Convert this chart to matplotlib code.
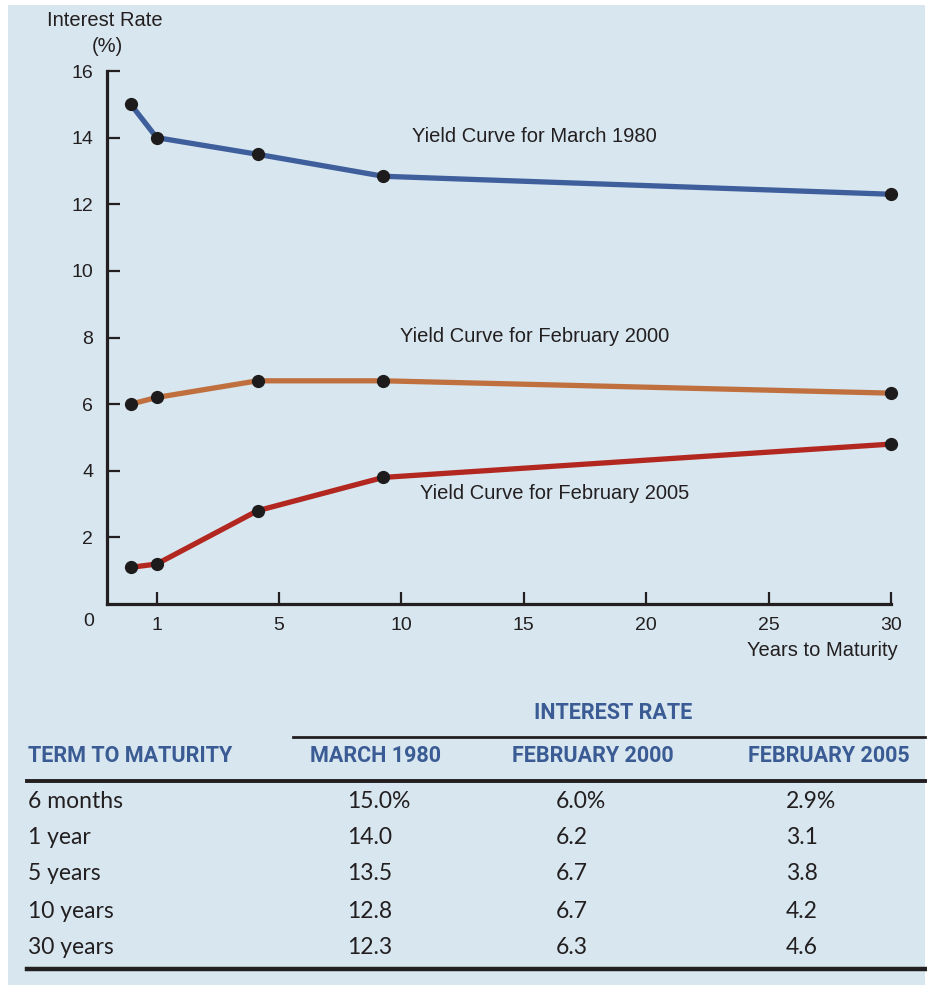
import matplotlib
matplotlib.use("Agg")
import matplotlib.pyplot as plt
from matplotlib.lines import Line2D
from matplotlib.patches import Rectangle

x_pos = [-1.06, 0.0, 4.12, 9.26, 30.0]
tick_pos = [0, 5, 10, 15, 20, 25, 30]
tick_labels = ["1", "5", "10", "15", "20", "25", "30"]

curve_1980 = [15.0, 14.0, 13.5, 12.84, 12.3]
curve_2000 = [6.0, 6.2, 6.7, 6.7, 6.33]
curve_2005 = [1.1, 1.2, 2.8, 3.8, 4.8]

terms = ["6 months", "1 year", "5 years", "10 years", "30 years"]
rates_1980 = [15.0, 14.0, 13.5, 12.8, 12.3]
rates_2000 = [6.0, 6.2, 6.7, 6.7, 6.3]
rates_2005 = [2.9, 3.1, 3.8, 4.2, 4.6]
col_heads = ["TERM TO MATURITY", "MARCH 1980", "FEBRUARY 2000", "FEBRUARY 2005"]

BG = "#d7e6ef"
INK = "#231f20"
HEAD = "#3a5b93"
W, H = 927, 991

plt.rcParams["font.family"] = ["Liberation Sans", "DejaVu Sans"]

fig = plt.figure(figsize=(W / 100, H / 100), dpi=100)
fig.patches.append(Rectangle((8 / W, 1 - 985 / H), (925 - 8) / W, (985 - 5) / H,
                             transform=fig.transFigure, facecolor=BG, edgecolor="none", zorder=-5))

ax = fig.add_axes([107 / W, 1 - 604 / H, (891 - 107) / W, (604 - 71) / H])
ax.set_facecolor("none")
ax.set_zorder(2)

ax.plot(x_pos, curve_1980, color="#3e5f9b", lw=3.8, zorder=2)
ax.plot(x_pos, curve_2000, color="#c0703f", lw=3.8, zorder=2)
ax.plot(x_pos, curve_2005, color="#b2271f", lw=3.8, zorder=2)
for ys in (curve_1980, curve_2000, curve_2005):
    ax.plot(x_pos, ys, "o", color="#1e1b1c", ms=8.5, zorder=3, clip_on=False)

ax.set_xlim(-2.03, 30)
ax.set_ylim(0, 16)
ax.set_xticks(tick_pos)
ax.set_xticklabels(tick_labels)
ax.set_yticks([2, 4, 6, 8, 10, 12, 14, 16])
for s in ("top", "right"):
    ax.spines[s].set_visible(False)
for s in ("left", "bottom"):
    ax.spines[s].set_linewidth(2.3)
    ax.spines[s].set_color(INK)
ax.tick_params(direction="in", length=9, width=1.6, color=INK, labelsize=14, labelcolor=INK)
ax.tick_params(axis="y", pad=10)
ax.tick_params(axis="x", pad=9)

fs = 14.5
fig.text(105 / W, 1 - 21 / H, "Interest Rate", ha="center", va="center", fontsize=fs, color=INK)
fig.text(107 / W, 1 - 46 / H, "(%)", ha="center", va="center", fontsize=fs, color=INK)
fig.text(89 / W, 1 - 622 / H, "0", ha="center", va="center", fontsize=14, color=INK)
fig.text(822 / W, 1 - 651 / H, "Years to Maturity", ha="center", va="center", fontsize=fs, color=INK)
fig.text(412 / W, 1 - 136 / H, "Yield Curve for March 1980", ha="left", va="center", fontsize=fs, color=INK)
fig.text(400 / W, 1 - 337 / H, "Yield Curve for February 2000", ha="left", va="center", fontsize=fs, color=INK)
fig.text(420 / W, 1 - 494 / H, "Yield Curve for February 2005", ha="left", va="center", fontsize=fs, color=INK)

# table
def hline(y, x0, x1, lw):
    fig.add_artist(Line2D([x0 / W, x1 / W], [1 - y / H, 1 - y / H], color=INK, lw=lw,
                          transform=fig.transFigure))

head_font = ["Roboto", "DejaVu Sans"]
fig.text(613 / W, 1 - 713 / H, "INTEREST RATE", ha="center", va="center", fontsize=15.5,
         fontweight="bold", color=HEAD, family=head_font)
hline(737, 293, 925, 2.0)
head_x = [28, 376, 593, 829]
for i, h in enumerate(col_heads):
    fig.text(head_x[i] / W, 1 - 756 / H, h, ha="left" if i == 0 else "center", va="center",
             fontsize=15.5, fontweight="bold", color=HEAD, family=head_font)
hline(781, 27, 925, 2.8)

row_y = [801, 838, 874, 911, 947]
col_x = [28, 347, 556, 786]
body = dict(va="center", fontsize=16.5, color=INK, family=["Lato", "DejaVu Sans"])
for i, t in enumerate(terms):
    suffix = "%" if i == 0 else ""
    y = 1 - row_y[i] / H
    fig.text(col_x[0] / W, y, t, **body)
    fig.text(col_x[1] / W, y, f"{rates_1980[i]:.1f}{suffix}", **body)
    fig.text(col_x[2] / W, y, f"{rates_2000[i]:.1f}{suffix}", **body)
    fig.text(col_x[3] / W, y, f"{rates_2005[i]:.1f}{suffix}", **body)
hline(969, 27, 925, 3.2)

fig.savefig("out.png", dpi=100, facecolor="white")
